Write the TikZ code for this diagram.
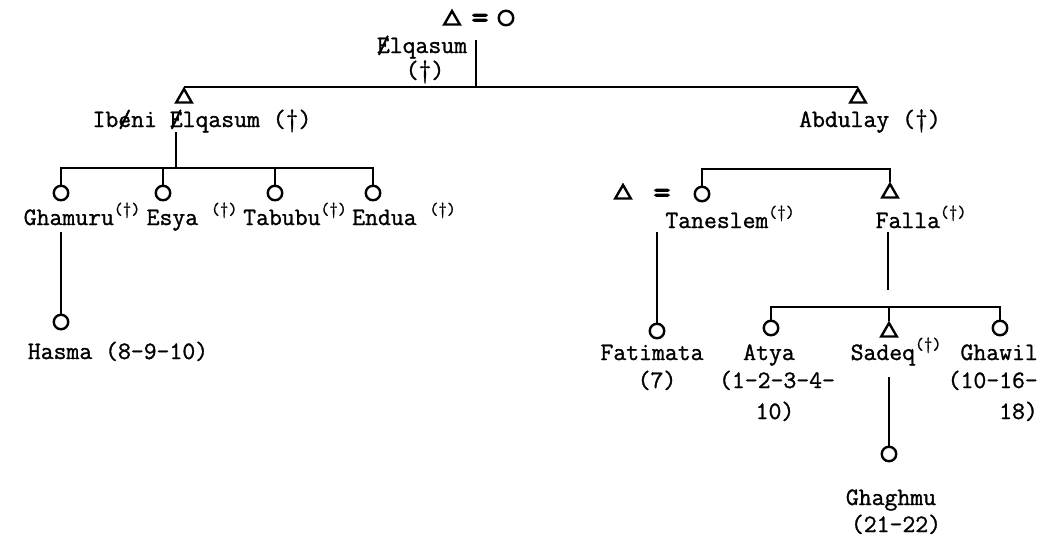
\documentclass[tikz,border=0pt]{standalone}
\usepackage{fontspec}
\usetikzlibrary{shapes.geometric}
\newfontfamily\lbfont{Latin Modern Mono}[FakeBold=1.2]
\newfontfamily\eqfont{Latin Modern Mono}[FakeBold=3]
\newcommand\mydg{\raisebox{0.42em}{\fontsize{17}{17}\selectfont(\textdagger)}}
\newcommand\slashed[1]{\rlap{/}#1}
\tikzset{
  fem/.style={circle, draw, line width=2.4pt, minimum size=14.5pt, inner sep=0pt},
  male/.style={regular polygon, regular polygon sides=3, draw, line width=2.4pt, minimum size=18pt, inner sep=0pt},
  lbl/.style={inner sep=0pt, anchor=base, font=\lbfont\fontsize{25}{29}\selectfont},
  lblr/.style={lbl, anchor=base east},
  eqs/.style={inner sep=0pt, font=\eqfont\fontsize{33}{36}\selectfont},
  ln/.style={line width=1.8pt}
}
\begin{document}
\begin{tikzpicture}[x=1pt,y=-1pt]
\useasboundingbox (0,0) rectangle (1042,541);
\fill[white] (0,0) rectangle (1042,541);

% top couple
\node[male] (t0) at (452,20) {};
\node[eqs] (e0) at (480,21) {=};
\node[fem] (c0) at (506,18) {};
\node[lbl] (elq1) at (422,53) {\slashed{E}lqasum};
\node[lbl] (elq2) at (425,78) {(\textdagger)};
\coordinate (elqtop) at (476,40);

% generation 2
\node[male] (ib) at (184,98) {};
\node[male] (ab) at (858,98) {};
\draw[ln] (ib.north) -- (ab.north);
\draw[ln] (elqtop) -- (elqtop |- ib.north);
\node[lbl] (ibl) at (202,127) {Ib\slashed{e}ni \slashed{E}lqasum (\textdagger)};
\node[lbl] (abl) at (870,127) {Abdulay (\textdagger)};

% Ibeni's children
\coordinate (ibdown) at (176,132);
\coordinate (bar1) at (176,168);
\node[fem] (g1) at (61,193) {};
\node[fem] (g2) at (163,193) {};
\node[fem] (g3) at (275,193) {};
\node[fem] (g4) at (373,193) {};
\draw[ln] (ibdown) -- (bar1);
\draw[ln] (g1.north) -- (g1.north |- bar1) -- (g4.north |- bar1) -- (g4.north);
\draw[ln] (g2.north) -- (g2.north |- bar1);
\draw[ln] (g3.north) -- (g3.north |- bar1);
\node[lbl] (g1l) at (82,225) {Ghamuru\mydg};
\node[lbl] (g2l) at (192,225) {Esya \mydg};
\node[lbl] (g3l) at (295,225) {Tabubu\mydg};
\node[lbl] (g4l) at (404,225) {Endua \mydg};

% Hasma
\coordinate (ghdown) at (61,232);
\node[fem] (h1) at (61,322) {};
\draw[ln] (ghdown) -- (h1.north);
\node[lbl] (h1l) at (118,359) {Hasma (8-9-10)};

% Abdulay's children
\node[male] (t1) at (623,194) {};
\node[eqs] (e1) at (662,196) {=};
\node[fem] (tan) at (702,194) {};
\node[male] (fal) at (890,193) {};
\coordinate (bar2) at (790,169);
\draw[ln] (tan.north) -- (tan.north |- bar2) -- (fal.north |- bar2) -- (fal.north);
\node[lbl] (tanl) at (730,228) {Taneslem\mydg};
\node[lbl] (fall) at (921,228) {Falla\mydg};

% Fatimata
\coordinate (tandown) at (657,232);
\node[fem] (fat) at (657,331) {};
\draw[ln] (tandown) -- (fat.north);
\node[lbl] (fat1) at (652,360) {Fatimata};
\node[lbl] (fat2) at (657,388) {(7)};

% Falla's children
\coordinate (faldown) at (888,232);
\coordinate (falend) at (888,290);
\draw[ln] (faldown) -- (falend);
\coordinate (bar3) at (888,307);
\node[fem] (at) at (771,328) {};
\node[male] (sa) at (889,332) {};
\node[fem] (gw) at (1000,328) {};
\draw[ln] (at.north) -- (at.north |- bar3) -- (gw.north |- bar3) -- (gw.north);
\draw[ln] (sa.north) -- (sa.north |- bar3);
\node[lbl] (at1) at (769,360) {Atya};
\node[lbl] (at2) at (777,388) {(1-2-3-4-};
\node[lbl] (at3) at (775,419) {10)};
\node[lbl] (sal) at (896,360) {Sadeq\mydg};
\node[lblr] (gw1) at (1038,360) {Ghawil};
\node[lblr] (gw2) at (1038,388) {(10-16-};
\node[lblr] (gw3) at (1038,419) {18)};

% Ghaghmu
\coordinate (sadown) at (889,377);
\node[fem] (gg) at (889,454) {};
\draw[ln] (sadown) -- (gg.north);
\node[lbl] (gg1) at (891,505) {Ghaghmu};
\node[lbl] (gg2) at (896,532) {(21-22)};
\end{tikzpicture}
\end{document}
